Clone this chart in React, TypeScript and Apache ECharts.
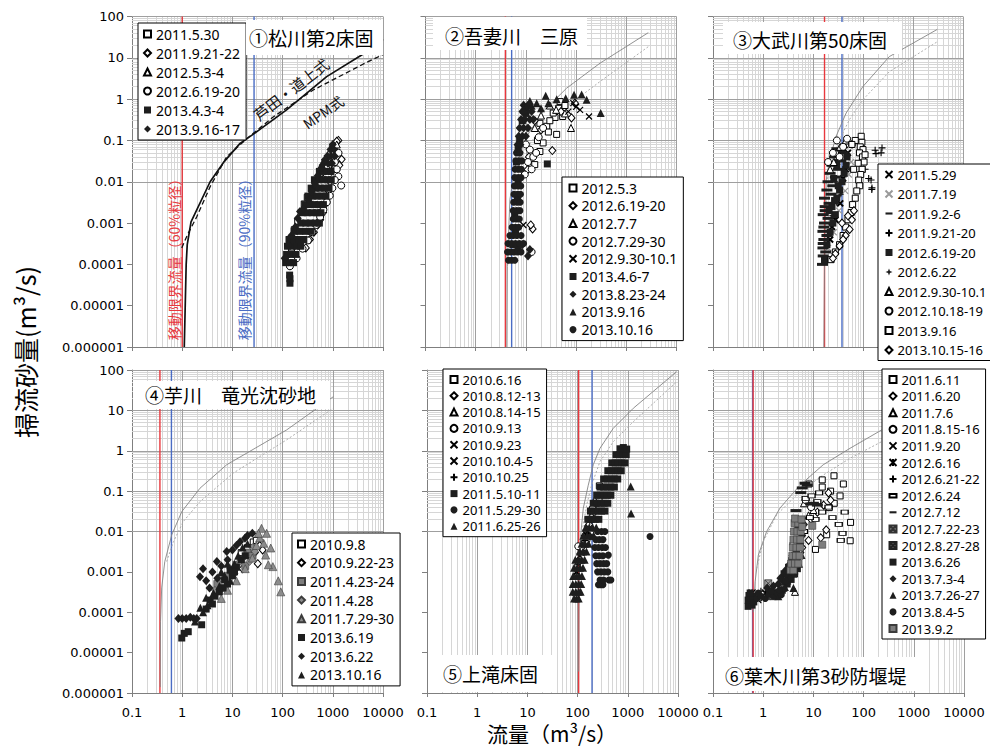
import React, { useEffect, useRef } from 'react';
import * as echarts from 'echarts';

// ---------------- axes ----------------
const X_TICK_LABELS = ['0.1', '1', '10', '100', '1000', '10000']; // exponents -1..4
const Y_TICK_LABELS = ['0.000001', '0.00001', '0.0001', '0.001', '0.01', '0.1', '1', '10', '100']; // -6..2
const X_MIN = 0.1;
const X_MAX = 10000;
const Y_MIN = 0.000001;
const Y_MAX = 100;
const MINOR_STEPS = [2, 3, 4, 5, 6, 7, 8, 9];

const PANEL_TITLES = ['①松川第2床固', '②吾妻川　三原', '③大武川第50床固', '④芋川　竜光沈砂地', '⑤上滝床固', '⑥葉木川第3砂防堰堤'];
const Y_TITLE = '掃流砂量(m³/s)';
const X_TITLE = '流量（m³/s）';
const LABEL_60 = '移動限界流量（60%粒径）';
const LABEL_90 = '移動限界流量（90%粒径）';
const LABEL_ASHIDA = '芦田・道上式';
const LABEL_MPM = 'MPM式';

// critical discharges (m3/s) for 60% and 90% grain size
const CRIT_60 = [1.0, 3.9, 17, 0.36, 105, 0.63];
const CRIT_90 = [27, 5.2, 38, 0.61, 194, 0.615];

// ---------------- formula curves ----------------
const ASHIDA_1 = [[1.1, 1e-6], [1.2, 1e-4], [1.26, 3e-4], [1.5, 1.07e-3], [3.6, 0.01], [6.6, 0.029], [14.2, 0.085], [28, 0.15], [120, 0.55], [755, 3.5], [3760, 11.7], [10000, 28]];
const MPM_1 = [[0.98, 2.5e-4], [1.31, 5.6e-4], [1.94, 1.4e-3], [3.6, 7.6e-3], [7.7, 0.04], [19.3, 0.11], [65, 0.37], [407, 1.66], [4370, 7.4], [10000, 12]];
const ASHIDA_2 = [[4.2, 1e-6], [4.27, 9e-5], [4.8, 0.0037], [6.1, 0.023], [10.4, 0.126], [22, 0.5], [65, 1.85], [299, 7.4], [2740, 40.6]];
const MPM_2 = [[4.4, 1e-4], [5.0, 1e-3], [6.1, 0.011], [8.9, 0.05], [19, 0.18], [65, 0.66], [299, 2.66], [2740, 18.6]];
const ASHIDA_3 = [[16.5, 1e-6], [17, 1e-4], [18.4, 0.011], [21.4, 0.034], [29, 0.126], [46, 0.46], [99, 2.0], [336, 10.7], [3080, 49]];
const MPM_3 = [[18, 1e-3], [19.8, 0.016], [24.9, 0.04], [34, 0.105], [53.6, 0.32], [99, 0.96], [336, 4.6], [3080, 24.6]];
const ASHIDA_4 = [[0.365, 1.4e-6], [0.37, 5.9e-5], [0.39, 4e-4], [0.45, 0.0018], [0.62, 0.0083], [0.98, 0.031], [2.26, 0.118], [7.7, 0.45], [120, 3.27], [1023, 21.8]];
const MPM_4 = [[0.49, 0.0018], [0.67, 0.0056], [1.05, 0.0176], [2.26, 0.055], [10.4, 0.28], [120, 1.86], [1023, 11.3]];
const ASHIDA_5 = [[105, 3.4e-6], [107, 4e-4], [112, 0.0056], [130, 0.038], [163, 0.14], [205, 0.45], [279, 1.15], [514, 3.6], [1290, 11.3], [9400, 91]];
const MPM_5 = [[115, 0.0026], [126, 0.012], [152, 0.046], [190, 0.14], [279, 0.54], [514, 1.68], [1290, 5.25], [9400, 51]];
const ASHIDA_6 = [[0.64, 1e-4], [0.69, 5.7e-4], [0.8, 0.0026], [1.17, 0.01], [2.16, 0.038], [5.4, 0.14], [15.7, 0.45], [53.6, 1.15], [229, 3.27]];
const MPM_6 = [[0.74, 0.0012], [1.0, 0.0056], [1.86, 0.026], [5.4, 0.097], [15.7, 0.25], [53.6, 0.65], [229, 1.68]];
const ASHIDA = [ASHIDA_1, ASHIDA_2, ASHIDA_3, ASHIDA_4, ASHIDA_5, ASHIDA_6];
const MPM = [MPM_1, MPM_2, MPM_3, MPM_4, MPM_5, MPM_6];

// ---------------- Panel 1 ①松川第2床固 ----------------
const P1_LABELS = ['2011.5.30', '2011.9.21-22', '2012.5.3-4', '2012.6.19-20', '2013.4.3-4', '2013.9.16-17'];
const P1_110530 = [[125, 1.6e-4], [136, 4e-4], [150, 2.5e-4], [171, 6.9e-4], [200, 1.1e-3], [235, 1.8e-3], [270, 2.9e-3], [310, 4.2e-3], [556, 0.016], [620, 0.022], [700, 0.03], [900, 0.045], [1000, 0.07]];
const P1_110921 = [[1290, 0.1], [1200, 0.095], [1100, 0.07], [1500, 0.035], [1350, 0.025], [1150, 0.045], [1000, 0.03], [950, 0.018], [880, 0.01], [820, 6e-3], [760, 4e-3], [700, 2.8e-3], [640, 1.8e-3], [560, 1.2e-3], [500, 9e-4], [420, 6e-4], [350, 4e-4], [290, 2.5e-4]];
const P1_120503 = [[556, 0.0195], [1023, 0.054], [1100, 0.065], [950, 0.04], [850, 0.03], [760, 0.025], [1200, 0.08], [650, 0.012]];
const P1_120619 = [[1290, 0.0135], [1470, 0.0081], [1200, 0.02], [1100, 0.011], [980, 7e-3], [870, 4.6e-3], [760, 3.2e-3], [650, 2.1e-3], [560, 1.4e-3], [470, 9e-4], [390, 6e-4], [320, 3.8e-4], [250, 2.4e-4], [190, 1.4e-4], [140, 9e-5], [150, 1.3e-4], [1300, 0.05], [1100, 0.03]];
const P1_130403 = [[140, 3.5e-5], [140, 4.5e-5], [138, 5.5e-5], [115, 1.1e-4], [140, 1.1e-4], [165, 1.1e-4], [120, 1.74e-4], [150, 1.74e-4], [185, 1.74e-4], [125, 2.75e-4], [155, 2.75e-4], [190, 2.75e-4], [230, 2.75e-4], [135, 4e-4], [170, 4e-4], [215, 4e-4], [265, 4e-4], [170, 6.3e-4], [220, 6.3e-4], [290, 6.3e-4], [370, 6.3e-4], [230, 1e-3], [290, 1e-3], [360, 1e-3], [450, 1e-3], [540, 1e-3], [250, 1.78e-3], [310, 1.78e-3], [390, 1.78e-3], [480, 1.78e-3], [580, 1.78e-3], [280, 2.8e-3], [350, 2.8e-3], [430, 2.8e-3], [530, 2.8e-3], [650, 2.8e-3], [320, 4.5e-3], [400, 4.5e-3], [490, 4.5e-3], [600, 4.5e-3], [730, 4.5e-3], [370, 7e-3], [460, 7e-3], [560, 7e-3], [690, 7e-3], [840, 7e-3], [430, 0.0112], [530, 0.0112], [650, 0.0112], [790, 0.0112], [930, 0.0112], [540, 0.0178], [650, 0.0178], [780, 0.0178], [920, 0.0178]];
const P1_130916 = [[660, 0.028], [800, 0.028], [960, 0.028], [780, 0.042], [920, 0.042], [1080, 0.042], [900, 0.06], [1050, 0.06], [1000, 0.08], [222, 1.9e-3], [480, 7.5e-3], [200, 1.3e-3], [260, 2.2e-3], [330, 3.6e-3], [380, 5.7e-3], [440, 9e-3], [500, 0.014], [600, 0.022], [700, 0.034], [150, 5e-4], [130, 3e-4], [180, 8e-4], [110, 1.4e-4]];
const P1_VALUES = [P1_110530, P1_110921, P1_120503, P1_120619, P1_130403, P1_130916];

// ---------------- Panel 2 ②吾妻川 三原 ----------------
const P2_LABELS = ['2012.5.3', '2012.6.19-20', '2012.7.7', '2012.7.29-30', '2012.9.30-10.1', '2013.4.6-7', '2013.8.23-24', '2013.9.16', '2013.10.16'];
const P2_120503 = [[48, 0.87], [54, 0.38], [38, 0.36], [41, 0.14], [22, 0.087], [19, 0.054], [15, 0.026], [26, 0.22], [35, 0.46], [19, 0.26], [30, 0.3], [45, 0.6], [13, 0.045], [17, 0.1], [60, 0.7], [28, 0.16]];
const P2_120619 = [[95, 0.8], [81, 0.35], [33.6, 0.057], [13.6, 7.2e-4], [10.8, 0.0196], [11.5, 0.04], [20, 0.18], [15, 0.3], [12.5, 9e-4], [50, 0.5]];
const P2_120707 = [[79, 0.2], [40, 0.55], [30, 0.7], [20, 0.4], [15, 0.2], [60, 0.45]];
const P2_120729 = [[13, 2e-4], [14, 0.04], [12, 0.06], [11, 0.03], [16, 0.05], [10, 0.08], [18, 0.12], [22, 0.2], [13, 0.02], [9.5, 0.015]];
const P2_120930 = [[120, 0.55], [181, 0.38], [88, 0.8], [8.9, 9e-4], [100, 0.65], [70, 0.5]];
const P2_130406 = [[26.7, 0.027], [6.5, 0.03], [7, 0.01], [6.8, 0.004], [6, 0.0015], [5.5, 3e-4], [7.5, 0.1], [8.5, 0.3], [10, 0.45], [7, 0.06], [6.2, 6e-4]];
const P2_130823 = [[6.8, 0.079], [7.8, 0.079], [7.2, 0.126], [8.5, 0.126], [10, 0.126], [7.5, 0.2], [9, 0.2], [11, 0.2], [8, 0.32], [9.5, 0.32], [12, 0.32], [14, 0.32], [8.5, 0.5], [10.5, 0.5], [13, 0.5], [9, 0.71], [11, 0.71], [12, 2.3e-4], [8.5, 3e-4], [7, 2.5e-4], [11, 1.6e-4]];
const P2_130916 = [[24.8, 1.2], [41, 1.0], [62, 1.05], [91, 1.27], [129, 1.3], [162, 0.96], [309, 0.46], [13, 0.69], [16.4, 0.8], [28, 0.8], [10, 0.65], [20, 0.6], [9, 0.55], [12, 0.9]];
const P2_131016 = [[4.5, 1.26e-4], [5.2, 1.26e-4], [6.0, 1.26e-4], [4.3, 2e-4], [5.0, 2e-4], [5.8, 2e-4], [6.8, 2e-4], [8, 2e-4], [4.4, 3.2e-4], [5.2, 3.2e-4], [6.2, 3.2e-4], [7.4, 3.2e-4], [9, 3.2e-4], [4.8, 5e-4], [5.6, 5e-4], [6.6, 5e-4], [8, 5e-4], [5.3, 7.9e-4], [6.2, 7.9e-4], [7.2, 7.9e-4], [5.6, 1.26e-3], [6.5, 1.26e-3], [7.4, 1.26e-3], [5.6, 2e-3], [6.6, 2e-3], [7.6, 2e-3], [5.7, 3.2e-3], [6.7, 3.2e-3], [7.7, 3.2e-3], [5.8, 5e-3], [6.8, 5e-3], [7.8, 5e-3], [5.9, 7.9e-3], [6.9, 7.9e-3], [7.9, 7.9e-3], [6.0, 0.0126], [7.0, 0.0126], [8.0, 0.0126], [6.1, 0.02], [7.1, 0.02], [8.1, 0.02], [6.3, 0.032], [7.3, 0.032], [8.3, 0.032], [6.5, 0.05], [7.6, 0.05]];
const P2_VALUES = [P2_120503, P2_120619, P2_120707, P2_120729, P2_120930, P2_130406, P2_130823, P2_130916, P2_131016];

// ---------------- Panel 3 ③大武川第50床固 ----------------
const P3_LABELS = ['2011.5.29', '2011.7.19', '2011.9.2-6', '2011.9.21-20', '2012.6.19-20', '2012.6.22', '2012.9.30-10.1', '2012.10.18-19', '2013.9.16', '2013.10.15-16'];
const P3_110529 = [[22, 4e-4], [28, 1.2e-3], [35, 3e-3], [40, 0.012], [45, 0.02], [30, 0.03], [24, 8e-4], [50, 0.05]];
const P3_110719 = [[20, 2.5e-4], [26, 6e-4], [33, 2e-3], [44, 6e-3], [52, 0.015], [58, 0.03], [36, 0.05]];
const P3_110902 = [[15.5, 1e-4], [16, 1.6e-4], [15.8, 2.5e-4], [16.5, 4e-4], [15.8, 6.3e-4], [17, 1e-3], [16, 1.6e-3], [17.5, 2.5e-3], [17, 4e-3], [19, 6.3e-3], [20, 0.01], [22, 0.016], [24, 0.025], [27, 0.04], [30, 0.063], [18, 2e-4], [19, 5e-4], [20, 1.3e-3], [21, 3e-3], [23, 5e-3], [25, 8e-3], [28, 0.013], [32, 0.02], [36, 0.032], [40, 0.05], [16, 3.2e-4], [16.5, 8e-4], [17.5, 2e-3]];
const P3_110921 = [[151, 7.1e-3], [240, 0.066], [230, 0.05], [175, 0.058], [182, 0.048], [85, 9.3e-3], [130, 0.012], [145, 0.011], [150, 6.5e-3], [110, 0.02]];
const P3_120619 = [[17, 1.3e-4], [19, 3e-4], [22, 6e-4], [25, 1e-3], [28, 1.6e-3], [24, 2.5e-3], [30, 4e-3], [34, 6.3e-3], [38, 0.01], [26, 0.012], [42, 0.016], [30, 0.025], [46, 0.025], [34, 0.04], [38, 0.063], [48, 0.04], [21, 2e-3], [27, 3.5e-3], [32, 8e-3]];
const P3_120622 = [[24, 1.5e-3], [30, 3e-3], [36, 5e-3], [28, 0.01], [40, 0.02], [55, 0.02], [20, 5e-4]];
const P3_120930 = [[30, 0.05], [35, 0.07], [26, 0.03], [42, 0.08], [22, 0.02], [45, 0.1]];
const P3_121018 = [[34, 0.04], [25, 0.05], [40, 0.07], [30, 0.1], [20, 0.03], [60, 0.08], [48, 0.11]];
const P3_130916 = [[92, 0.126], [95, 0.09], [88, 0.07], [100, 0.06], [85, 0.05], [98, 0.04], [105, 0.03], [80, 0.028], [96, 0.02], [90, 0.015], [82, 0.011], [86, 0.008], [75, 0.006], [70, 0.004], [62, 0.0028], [58, 0.0018], [50, 0.0012], [45, 8e-4], [40, 5e-4], [34, 3e-4], [28, 2e-4], [23, 1.3e-4], [70, 0.1], [60, 0.08], [110, 0.045], [65, 0.02]];
const P3_131015 = [[54, 7e-4], [34, 2.8e-4], [45, 5e-4], [40, 4e-4], [28, 1.8e-4], [60, 1.2e-3], [66, 2e-3], [25, 1.4e-4], [38, 1e-3], [50, 1.5e-3]];
const P3_VALUES = [P3_110529, P3_110719, P3_110902, P3_110921, P3_120619, P3_120622, P3_120930, P3_121018, P3_130916, P3_131015];

// ---------------- Panel 4 ④芋川 竜光沈砂地 ----------------
const P4_LABELS = ['2010.9.8', '2010.9.22-23', '2011.4.23-24', '2011.4.28', '2011.7.29-30', '2013.6.19', '2013.6.22', '2013.10.16'];
const P4_100908 = [[20, 4e-3], [26, 5.5e-3], [15, 3e-3], [30, 6e-3], [22, 2.6e-3]];
const P4_100922 = [[32, 1.6e-3], [28, 3e-3], [35, 4.5e-3], [24, 2.2e-3], [16, 1.2e-3], [40, 3.5e-3]];
const P4_110423 = [[5, 5e-4], [8, 8e-4], [12, 1.5e-3], [15, 2e-3], [10, 1e-3], [7, 4e-4], [20, 3e-3], [18, 1.4e-3], [25, 2.5e-3]];
const P4_110428 = [[6, 7e-4], [9, 1.2e-3], [14, 1.8e-3], [18, 2.5e-3], [25, 4e-3], [11, 9e-4], [4.5, 3.5e-4], [22, 1.8e-3], [28, 3.2e-3]];
const P4_110729 = [[38, 0.012], [48, 9e-3], [42, 5.1e-3], [58, 3.9e-3], [46, 2.6e-3], [64, 1.35e-3], [52, 1.5e-3], [82, 6e-4], [92, 3.2e-4], [30, 4.5e-3], [35, 7e-3], [25, 2.2e-3], [18, 1.2e-3], [12, 6e-4], [8, 3.5e-4], [6, 2.2e-4], [33, 0.009]];
const P4_130619 = [[0.98, 2.3e-5], [1.1, 3e-5], [1.32, 3.3e-5], [2.44, 4.9e-5], [3, 1.2e-4], [3.6, 2e-4], [4.5, 2.5e-4], [5.5, 3.2e-4], [6.5, 4e-4], [8, 5e-4], [10, 8e-4], [9, 1.1e-3], [12, 1.3e-3], [15, 2e-3], [4, 1.6e-4], [7, 6.3e-4], [11, 1e-3], [18, 2.5e-3]];
const P4_130622 = [[0.84, 7e-5], [1.0, 7e-5], [1.2, 7e-5], [1.45, 7.5e-5], [1.7, 7e-5], [1.95, 7e-5], [2.26, 7.6e-4], [2.6, 1.2e-3], [4.9, 1.8e-3], [7.7, 3.2e-3], [14.2, 5.6e-3], [17.8, 6.8e-3], [3, 6e-4], [4, 1e-3], [6, 1.4e-3], [10, 3.5e-3], [12, 4.5e-3], [3.5, 4e-4], [5, 7e-4], [8, 2e-3], [20, 8e-3], [25, 9e-3]];
const P4_131016 = [[1.8, 5.9e-5], [2.6, 1e-4], [3.2, 1.5e-4], [4.2, 3e-4], [5.5, 4.5e-4], [3, 2.3e-4], [7, 8e-4], [9, 6e-4], [6, 1e-3], [11, 1.6e-3], [13, 2.5e-3], [16, 4e-3], [20, 5e-3], [8, 1.6e-3], [2.3, 1.3e-4]];
const P4_VALUES = [P4_100908, P4_100922, P4_110423, P4_110428, P4_110729, P4_130619, P4_130622, P4_131016];

// ---------------- Panel 5 ⑤上滝床固 ----------------
const P5_LABELS = ['2010.6.16', '2010.8.12-13', '2010.8.14-15', '2010.9.13', '2010.9.23', '2010.10.4-5', '2010.10.25', '2011.5.10-11', '2011.5.29-30', '2011.6.25-26'];
const P5_100616 = [[271, 0.135], [268, 0.069], [230, 0.05], [200, 0.03], [180, 0.02], [160, 0.012]];
const P5_100812 = [[170, 0.015], [140, 8e-3], [200, 0.04], [120, 4e-3]];
const P5_100814 = [[190, 0.025], [150, 0.012], [220, 0.06]];
const P5_100913 = [[103, 4.3e-3], [103, 1.8e-3], [180, 0.01], [150, 6e-3]];
const P5_100923 = [[110, 2.5e-3], [130, 5e-3], [160, 0.01]];
const P5_101004 = [[95, 1e-3], [120, 3e-3], [150, 8e-3]];
const P5_101025 = [[100, 1.5e-3], [140, 6e-3], [175, 0.018]];
const P5_110510 = [[160, 0.02], [190, 0.02], [225, 0.02], [265, 0.02], [180, 0.032], [215, 0.032], [255, 0.032], [300, 0.032], [350, 0.032], [205, 0.05], [245, 0.05], [290, 0.05], [340, 0.05], [400, 0.05], [240, 0.079], [285, 0.079], [335, 0.079], [390, 0.079], [460, 0.079], [280, 0.126], [330, 0.126], [390, 0.126], [460, 0.126], [540, 0.126], [330, 0.2], [390, 0.2], [460, 0.2], [540, 0.2], [630, 0.2], [400, 0.32], [470, 0.32], [550, 0.32], [640, 0.32], [740, 0.32], [480, 0.5], [560, 0.5], [650, 0.5], [760, 0.5], [880, 0.5], [580, 0.8], [680, 0.8], [800, 0.8], [930, 0.8], [700, 1.12], [815, 1.2], [950, 1.1]];
const P5_110529 = [[260, 4.8e-4], [290, 4.8e-4], [320, 4.8e-4], [280, 6.3e-4], [330, 6.3e-4], [420, 6.3e-4], [460, 6.3e-4], [250, 1e-3], [290, 1e-3], [340, 1e-3], [400, 1e-3], [240, 1.6e-3], [280, 1.6e-3], [330, 1.6e-3], [380, 1.6e-3], [230, 2.5e-3], [270, 2.5e-3], [320, 2.5e-3], [409, 2.6e-3], [220, 4e-3], [260, 4e-3], [310, 4e-3], [360, 4e-3], [230, 6.3e-3], [270, 6.3e-3], [320, 6.3e-3], [250, 0.01], [300, 0.01], [350, 0.01], [2770, 7.5e-3]];
const P5_110625 = [[85, 2.2e-4], [95, 2.2e-4], [105, 2.2e-4], [80, 3.2e-4], [92, 3.2e-4], [105, 3.2e-4], [115, 3.2e-4], [80, 5e-4], [92, 5e-4], [105, 5e-4], [118, 5e-4], [82, 7.9e-4], [95, 7.9e-4], [108, 7.9e-4], [122, 7.9e-4], [85, 1.26e-3], [98, 1.26e-3], [112, 1.26e-3], [128, 1.26e-3], [90, 2e-3], [105, 2e-3], [120, 2e-3], [138, 2e-3], [110, 3.2e-3], [128, 3.2e-3], [150, 3.2e-3], [120, 5e-3], [140, 5e-3], [165, 5e-3], [130, 7.9e-3], [155, 7.9e-3], [180, 7.9e-3], [210, 7.9e-3], [145, 0.0126], [170, 0.0126], [200, 0.0126], [235, 0.0126], [1143, 0.13], [1160, 0.028]];
const P5_VALUES = [P5_100616, P5_100812, P5_100814, P5_100913, P5_100923, P5_101004, P5_101025, P5_110510, P5_110529, P5_110625];

// ---------------- Panel 6 ⑥葉木川第3砂防堰堤 ----------------
const P6_LABELS = ['2011.6.11', '2011.6.20', '2011.7.6', '2011.8.15-16', '2011.9.20', '2012.6.16', '2012.6.21-22', '2012.6.24', '2012.7.12', '2012.7.22-23', '2012.8.27-28', '2013.6.26', '2013.7.3-4', '2013.7.26-27', '2013.8.4-5', '2013.9.2'];
const P6_110611 = [[25.7, 0.24], [15, 0.19], [39.5, 0.15], [15, 0.126], [34, 0.076], [26, 0.05], [20.7, 0.039], [55, 0.0168], [18.4, 0.0083], [54, 0.0059], [11, 0.0036], [8.2, 0.15], [22, 0.1]];
const P6_110620 = [[18, 0.011], [14, 7e-3], [22, 0.06], [12, 0.03], [9, 0.02], [8, 6e-3], [6, 4e-3], [16, 0.045], [5.5, 3e-3], [20, 0.09]];
const P6_110706 = [[10, 0.034], [4.3, 3.2e-4], [6.5, 0.05], [8, 0.025], [3.8, 2e-3]];
const P6_110815 = [[7, 0.06], [9, 0.04], [5, 0.012], [4, 5e-3], [3, 1e-3], [2, 4e-4]];
const P6_110920 = [[1.0, 2.2e-4], [1.3, 2.6e-4], [0.8, 2e-4], [1.6, 2.4e-4], [2.2, 3e-4]];
const P6_120616 = [[0.6, 3e-4], [1.1, 3e-4], [2.5, 5e-4], [1.8, 2.8e-4]];
const P6_120621 = [[0.55, 2.7e-4], [0.9, 3.3e-4], [1.5, 3e-4]];
const P6_120624 = [[7, 0.066], [9.2, 0.076], [13, 0.09], [20, 0.04], [32, 0.015], [38, 9e-3], [35, 6e-3], [24, 0.022], [42, 0.03], [11, 0.02], [8.5, 0.022], [12, 0.055], [6.5, 0.01], [15, 0.03]];
const P6_120712 = [[6.8, 0.157], [5.6, 0.092], [8.8, 0.048], [4.5, 0.033], [10, 0.05], [7.5, 0.14], [12, 0.045], [6, 0.12]];
const P6_120722 = [[1.26, 5.2e-4], [2, 3e-4], [3, 6e-4]];
const P6_120827 = [[1.5, 2.5e-4], [2.5, 4e-4], [4, 9e-4]];
const P6_130626 = [[0.5, 1.4e-4], [0.55, 1.6e-4], [0.6, 1.5e-4], [0.5, 2e-4], [0.58, 2.2e-4], [0.65, 1.8e-4], [0.52, 2.6e-4], [0.62, 2.5e-4], [0.55, 3e-4], [1.8, 3e-4], [2.4, 3.5e-4], [3, 5e-4], [3.6, 6.5e-4], [4.2, 9e-4], [4.8, 1.2e-3], [2.6, 9e-4], [3.2, 1.3e-3], [3.7, 1.9e-3], [4.6, 2.8e-3]];
const P6_130703 = [[1.2, 4e-4], [1.6, 4.5e-4], [2, 5e-4], [2.5, 6e-4], [3, 8e-4], [3.5, 1e-3], [2.2, 7e-4], [2.8, 1.1e-3], [3.3, 1.5e-3], [4, 1.8e-3], [4.5, 1.3e-3], [3.8, 2.5e-3], [5, 2.2e-3], [4.5, 3.5e-3], [5.5, 5e-3], [6, 8e-3], [5, 0.012], [6.5, 0.015]];
const P6_130726 = [[1.5, 3.8e-4], [2.7, 4.2e-4], [3.4, 7.5e-4], [4.2, 1.1e-3], [5.2, 1.6e-3], [4, 4e-4], [2, 2.5e-4], [5.8, 2.6e-3]];
const P6_130804 = [[0.75, 2.2e-4], [0.9, 2.5e-4], [1.1, 2.2e-4], [1.3, 2.8e-4], [1.6, 2.5e-4], [1.9, 3e-4], [2.3, 2.7e-4], [0.8, 3e-4], [1.45, 3.3e-4], [2.1, 3.5e-4], [2.8, 6e-4], [3.5, 1.4e-3]];
const P6_130902 = [[3.5, 1.1e-3], [4, 1.1e-3], [3.6, 1.6e-3], [4.3, 1.6e-3], [5, 1.6e-3], [3.8, 2.5e-3], [4.5, 2.5e-3], [5.3, 2.5e-3], [3.9, 4e-3], [4.6, 4e-3], [5.4, 4e-3], [4, 6.3e-3], [4.7, 6.3e-3], [5.5, 6.3e-3], [4.1, 0.01], [4.8, 0.01], [5.6, 0.01], [4.2, 0.016], [5, 0.016], [4.3, 0.021], [15, 4.7e-3], [9.5, 0.0138], [6, 0.013], [5.8, 0.02]];
const P6_VALUES = [P6_110611, P6_110620, P6_110706, P6_110815, P6_110920, P6_120616, P6_120621, P6_120624, P6_120712, P6_120722, P6_120827, P6_130626, P6_130703, P6_130726, P6_130804, P6_130902];

// ---------------- marker styles ----------------
const BLACK = '#1e1e1e';
const hollow = { color: '#fff', borderColor: '#000', borderWidth: 1 };
const STYLES: any = {
  hSquare: { symbol: 'rect', symbolSize: 6, itemStyle: hollow },
  hDiamond: { symbol: 'diamond', symbolSize: [7, 8], itemStyle: hollow },
  hTriangle: { symbol: 'triangle', symbolSize: 7, itemStyle: hollow },
  hCircle: { symbol: 'circle', symbolSize: 7, itemStyle: hollow },
  fSquare: { symbol: 'rect', symbolSize: 7, itemStyle: { color: BLACK } },
  fDiamond: { symbol: 'diamond', symbolSize: [8, 9], itemStyle: { color: BLACK } },
  fTriangle: { symbol: 'triangle', symbolSize: 8, itemStyle: { color: BLACK } },
  fCircle: { symbol: 'circle', symbolSize: 7, itemStyle: { color: BLACK } },
  gSquare: { symbol: 'rect', symbolSize: 7, itemStyle: { color: '#7d7d7d', borderColor: '#3c3c3c', borderWidth: 0.6 } },
  gDiamond: { symbol: 'diamond', symbolSize: [7, 8], itemStyle: { color: '#8c8c8c', borderColor: '#3c3c3c', borderWidth: 0.6 } },
  gTriangle: { symbol: 'triangle', symbolSize: 8, itemStyle: { color: '#8c8c8c', borderColor: '#3c3c3c', borderWidth: 0.6 } },
  cross: { symbol: 'path://M0 0L10 10M10 0L0 10', symbolSize: 6, itemStyle: { color: 'none', borderColor: '#000', borderWidth: 1.2 } },
  crossBold: { symbol: 'path://M0 0L10 10M10 0L0 10', symbolSize: 6, itemStyle: { color: 'none', borderColor: '#000', borderWidth: 2 } },
  crossLight: { symbol: 'path://M0 0L10 10M10 0L0 10', symbolSize: 6, itemStyle: { color: 'none', borderColor: '#9a9a9a', borderWidth: 1.2 } },
  asterisk: { symbol: 'path://M0 0L10 10M10 0L0 10M5 0L5 10', symbolSize: 7, itemStyle: { color: 'none', borderColor: '#000', borderWidth: 1.2 } },
  plus: { symbol: 'path://M5 0L5 10M0 5L10 5', symbolSize: 7, itemStyle: { color: 'none', borderColor: '#000', borderWidth: 1.1 } },
  dash: { symbol: 'path://M0 0H10V3H0Z', symbolSize: [11, 3], itemStyle: { color: BLACK } },
  smallRect: { symbol: 'path://M0 0H10V5H0Z', symbolSize: [7, 4], itemStyle: hollow },
  star: { symbol: 'path://M5 0L6.4 3.6L10 5L6.4 6.4L5 10L3.6 6.4L0 5L3.6 3.6Z', symbolSize: 7, itemStyle: { color: BLACK } },
  boxCrossGray: { symbol: 'path://M0 0H10V10H0ZM0 0L10 10M10 0L0 10', symbolSize: 7, itemStyle: { color: '#a0a0a0', borderColor: '#333', borderWidth: 0.8 } },
  boxCrossDark: { symbol: 'path://M0 0H10V10H0ZM0 0L10 10M10 0L0 10', symbolSize: 7, itemStyle: { color: '#5a5a5a', borderColor: '#222', borderWidth: 0.8 } },
};

const PANEL_STYLES = [
  ['hSquare', 'hDiamond', 'hTriangle', 'hCircle', 'fSquare', 'fDiamond'],
  ['hSquare', 'hDiamond', 'hTriangle', 'hCircle', 'cross', 'fSquare', 'fDiamond', 'fTriangle', 'fCircle'],
  ['crossBold', 'crossLight', 'dash', 'plus', 'fSquare', 'star', 'hTriangle', 'hCircle', 'hSquare', 'hDiamond'],
  ['hSquare', 'hDiamond', 'gSquare', 'gDiamond', 'gTriangle', 'fSquare', 'fDiamond', 'fTriangle'],
  ['hSquare', 'hDiamond', 'hTriangle', 'hCircle', 'cross', 'crossBold', 'plus', 'fSquare', 'fCircle', 'fTriangle'],
  ['hSquare', 'hDiamond', 'hTriangle', 'hCircle', 'cross', 'asterisk', 'plus', 'smallRect', 'dash', 'boxCrossGray', 'boxCrossDark', 'fSquare', 'fDiamond', 'fTriangle', 'fCircle', 'gSquare'],
];
const PANEL_LABELS = [P1_LABELS, P2_LABELS, P3_LABELS, P4_LABELS, P5_LABELS, P6_LABELS];
const PANEL_VALUES = [P1_VALUES, P2_VALUES, P3_VALUES, P4_VALUES, P5_VALUES, P6_VALUES];

// ---------------- layout ----------------
const GRIDS = [
  { left: 132, top: 16.5, width: 251, height: 330.5 },
  { left: 425.5, top: 16.5, width: 251, height: 330.5 },
  { left: 713, top: 16.5, width: 250, height: 330.5 },
  { left: 132, top: 370, width: 251, height: 323 },
  { left: 427, top: 370, width: 251, height: 323 },
  { left: 713, top: 370, width: 251, height: 323 },
];
const LEGENDS = [
  { left: 138, top: 23, gap: 5, font: 14 },
  { left: 562, top: 177, gap: 3.7, font: 14 },
  { left: 878, top: 164, gap: 6.5, font: 13 },
  { left: 292, top: 533, gap: 4.7, font: 14 },
  { left: 443, top: 369, gap: 3.3, font: 13 },
  { left: 882, top: 369, gap: 3.6, font: 13 },
];
const TITLE_BOXES = [
  { x: 246, y: 20, w: 137, h: 35, tx: 249, ty: 37.5 },
  { x: 433, y: 17, w: 154, h: 33, tx: 445, ty: 35 },
  { x: 723, y: 22, w: 179, h: 32, tx: 733, ty: 39 },
  { x: 133, y: 381, w: 197, h: 28, tx: 145, ty: 394 },
  { x: 435, y: 655, w: 117, h: 37, tx: 443, ty: 673.5 },
  { x: 715, y: 657, w: 202, h: 34, tx: 725, ty: 675 },
];

const RED = '#e8383d';
const BLUE = '#4a6cc4';
const JP = 'Noto Sans CJK JP';

function gridLineData() {
  const items: any[] = [];
  const minor = { color: '#d6d6d6', width: 1, type: 'solid' };
  const major = { color: '#9f9f9f', width: 1, type: 'solid' };
  for (let e = -1; e < 4; e++) for (const m of MINOR_STEPS) items.push({ xAxis: m * Math.pow(10, e), lineStyle: minor });
  for (let e = -6; e < 2; e++) for (const m of MINOR_STEPS) items.push({ yAxis: m * Math.pow(10, e), lineStyle: minor });
  for (let e = 0; e <= 4; e++) items.push({ xAxis: Math.pow(10, e), lineStyle: major });
  for (let e = -5; e <= 2; e++) items.push({ yAxis: Math.pow(10, e), lineStyle: major });
  return items;
}

function buildOption() {
  const series: any[] = [];
  const xAxis: any[] = [];
  const yAxis: any[] = [];
  const legend: any[] = [];
  const gl = gridLineData();

  GRIDS.forEach((g, i) => {
    xAxis.push({
      type: 'log', logBase: 10, gridIndex: i, min: X_MIN, max: X_MAX, splitNumber: 5,
      axisLine: { show: true, onZero: false, lineStyle: { color: '#7f7f7f', width: 1 } },
      axisTick: { show: true, length: 4, lineStyle: { color: '#7f7f7f' } },
      splitLine: { show: false }, minorTick: { show: false }, minorSplitLine: { show: false },
      axisLabel: {
        show: i >= 3, margin: 12, fontSize: 13, lineHeight: 14, fontFamily: 'DejaVu Sans', color: '#000',
        formatter: (v: number) => X_TICK_LABELS[Math.round(Math.log10(v)) + 1] ?? '',
      },
    });
    yAxis.push({
      type: 'log', logBase: 10, gridIndex: i, min: Y_MIN, max: Y_MAX, splitNumber: 8,
      axisLine: { show: true, onZero: false, lineStyle: { color: '#7f7f7f', width: 1 } },
      axisTick: { show: true, length: 5, lineStyle: { color: '#7f7f7f' } },
      splitLine: { show: false }, minorTick: { show: false }, minorSplitLine: { show: false },
      axisLabel: {
        show: i === 0 || i === 3, margin: 8, fontSize: 13, fontFamily: 'DejaVu Sans', color: '#000',
        formatter: (v: number) => Y_TICK_LABELS[Math.round(Math.log10(v)) + 6] ?? '',
      },
    });
    // grid lines (major & minor) placed through the axes
    series.push({
      type: 'scatter', xAxisIndex: i, yAxisIndex: i, data: [[1, 1]], symbolSize: 0, silent: true, z: 1,
      itemStyle: { opacity: 0 },
      markLine: { silent: true, z: 1, symbol: ['none', 'none'], label: { show: false }, animation: false, emphasis: { disabled: true }, data: gl },
    });
    // critical discharge lines
    series.push({ type: 'line', xAxisIndex: i, yAxisIndex: i, data: [[CRIT_90[i], Y_MIN], [CRIT_90[i], Y_MAX]], symbol: 'none', silent: true, z: 2, lineStyle: { color: BLUE, width: 1.4 } });
    series.push({ type: 'line', xAxisIndex: i, yAxisIndex: i, data: [[CRIT_60[i], Y_MIN], [CRIT_60[i], Y_MAX]], symbol: 'none', silent: true, z: 2, lineStyle: { color: RED, width: 1.4 } });
    // formula curves
    const first = i === 0;
    series.push({ type: 'line', xAxisIndex: i, yAxisIndex: i, data: ASHIDA[i], symbol: 'none', silent: true, z: 2, lineStyle: first ? { color: '#111', width: 1.7 } : { color: '#858585', width: 0.9 } });
    series.push({ type: 'line', xAxisIndex: i, yAxisIndex: i, data: MPM[i], symbol: 'none', silent: true, z: 2, lineStyle: first ? { color: '#111', width: 1.3, type: [5, 3] } : { color: '#a5a5a5', width: 0.9, type: [2, 2] } });
    // observed data
    const names: string[] = [];
    PANEL_LABELS[i].forEach((lab, k) => {
      const st = STYLES[PANEL_STYLES[i][k]];
      const name = `${i + 1}|${lab}`;
      names.push(name);
      series.push({
        type: 'scatter', name, xAxisIndex: i, yAxisIndex: i, data: PANEL_VALUES[i][k], z: 3,
        symbol: st.symbol, symbolSize: st.symbolSize, itemStyle: { ...st.itemStyle, opacity: 1 }, silent: true,
      });
    });
    const L = LEGENDS[i];
    legend.push({
      show: true, orient: 'vertical', left: L.left, top: L.top, itemGap: L.gap, padding: [4, 6, 4, 5],
      backgroundColor: '#fff', borderColor: '#000', borderWidth: 1, borderRadius: 0,
      itemWidth: 7, itemHeight: 7, selectedMode: false, z: 10,
      textStyle: { fontSize: L.font, lineHeight: L.font, fontFamily: 'Noto Sans', color: '#000' },
      formatter: (n: string) => n.split('|')[1],
      data: names,
    });
  });

  const elements: any[] = [];
  TITLE_BOXES.forEach((b, i) => {
    elements.push({ type: 'rect', shape: { x: b.x, y: b.y, width: b.w, height: b.h }, style: { fill: '#fff' }, z: 20, silent: true });
    elements.push({ type: 'text', x: b.tx, y: b.ty, z: 21, silent: true, style: { text: PANEL_TITLES[i], fill: '#000', fontSize: 19, lineHeight: 20, fontFamily: JP, align: 'left', verticalAlign: 'middle', textAlign: 'left', textVerticalAlign: 'middle' } });
  });
  const rotText = (text: string, x: number, y: number, rot: number, size: number, fill: string) => ({
    type: 'text', x, y, rotation: rot, z: 21, silent: true,
    style: { text, fill, fontSize: size, lineHeight: size, fontFamily: JP, align: 'center', verticalAlign: 'middle', textAlign: 'center', textVerticalAlign: 'middle' },
  });
  elements.push(rotText(LABEL_60, 174, 256, Math.PI / 2, 14, RED));
  elements.push(rotText(LABEL_90, 244, 256, Math.PI / 2, 14, BLUE));
  elements.push(rotText(LABEL_ASHIDA, 291, 89, 0.65, 15, '#111'));
  elements.push(rotText(LABEL_MPM, 323, 112, 0.61, 14, '#111'));
  elements.push(rotText(Y_TITLE, 25, 352, Math.PI / 2, 25, '#000'));
  elements.push(rotText(X_TITLE, 552, 733, 0, 21, '#000'));

  return {
    animation: false,
    backgroundColor: '#fff',
    textStyle: { fontFamily: 'Noto Sans' },
    grid: GRIDS.map((g) => ({ ...g, containLabel: false, show: false })),
    xAxis, yAxis, legend, series,
    graphic: { elements },
  };
}

export default function App() {
  const ref = useRef<HTMLDivElement>(null);
  useEffect(() => {
    if (!ref.current) return;
    const chart = echarts.init(ref.current, null, { renderer: 'svg' });
    chart.setOption(buildOption() as any);
    return () => chart.dispose();
  }, []);
  return <div ref={ref} style={{ position: 'fixed', left: 0, top: 0, width: 990, height: 747, background: '#fff' }} />;
}
